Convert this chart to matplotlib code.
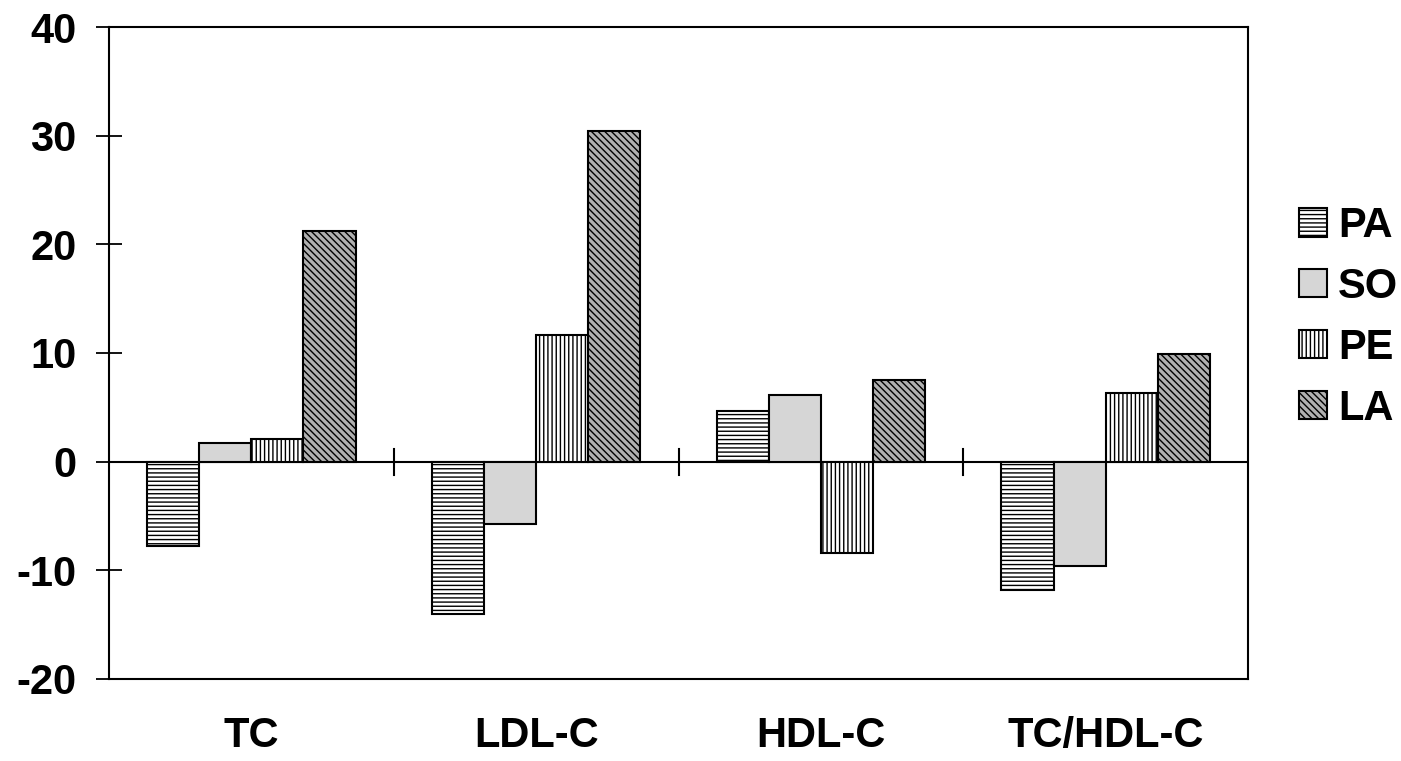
import matplotlib.pyplot as plt
import numpy as np

categories = ["TC", "LDL-C", "HDL-C", "TC/HDL-C"]
series_names = ["PA", "SO", "PE", "LA"]
pa_values = [-7.8, -14.0, 4.7, -11.8]
so_values = [1.7, -5.7, 6.1, -9.6]
pe_values = [2.1, 11.7, -8.4, 6.3]
la_values = [21.2, 30.4, 7.5, 9.9]
y_ticks = [-20, -10, 0, 10, 20, 30, 40]

plt.rcParams["font.family"] = ["Liberation Sans", "DejaVu Sans"]
plt.rcParams["font.weight"] = "bold"
plt.rcParams["hatch.linewidth"] = 1.0

fig = plt.figure(figsize=(14.01, 7.61), dpi=100)
ax = fig.add_axes([0.0778, 0.1078, 0.813, 0.8567])

x = np.arange(len(categories))
bar_w = 0.183
styles = [
	dict(facecolor="white", hatch="----"),
	dict(facecolor="#d6d6d6", hatch=None),
	dict(facecolor="white", hatch="||||"),
	dict(facecolor="#b0b0b0", hatch="\\\\\\\\\\"),
]
all_values = [pa_values, so_values, pe_values, la_values]

for i, (name, vals, st) in enumerate(zip(series_names, all_values, styles)):
	offset = (i - 1.5) * bar_w
	ax.bar(
		x + offset,
		vals,
		width=bar_w,
		edgecolor="black",
		linewidth=1.5,
		label=name,
		zorder=3,
		**st,
	)

ax.axhline(0, color="black", linewidth=1.5, zorder=2)
# small separator ticks between category groups on the zero line
for b in x[:-1] + 0.5:
	ax.plot([b, b], [-1.2, 1.2], color="black", linewidth=1.5, zorder=2)

ax.set_xlim(-0.5, len(categories) - 0.5)
ax.set_ylim(-20, 40)
ax.set_yticks(y_ticks)
ax.set_yticklabels([str(t) for t in y_ticks])
ax.set_xticks(x)
ax.set_xticklabels(categories)
ax.tick_params(axis="y", direction="inout", length=19, width=1.3, pad=14, labelsize=30)
ax.tick_params(axis="x", length=0, pad=27, labelsize=30)
for sp in ax.spines.values():
	sp.set_linewidth(1.5)

ax.legend(
	loc="center left",
	bbox_to_anchor=(0.927, 0.583),
	bbox_transform=fig.transFigure,
	frameon=False,
	fontsize=30,
	handlelength=0.67,
	handleheight=0.67,
	handletextpad=0.27,
	labelspacing=0.5,
	borderpad=0,
	borderaxespad=0,
)

fig.savefig("out.png", dpi=100)
